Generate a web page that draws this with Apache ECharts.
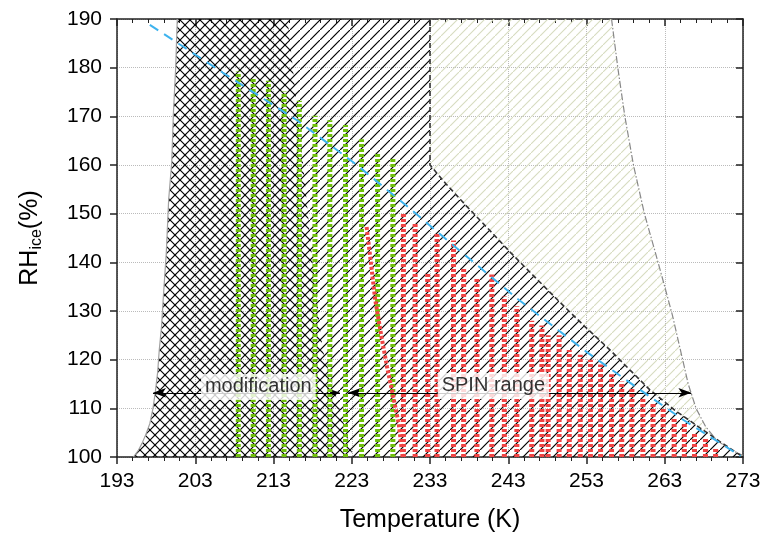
<!DOCTYPE html>
<html>
<head>
<meta charset="utf-8">
<script src="https://cdn.jsdelivr.net/npm/echarts@6/dist/echarts.min.js"></script>
<style>
html, body { margin: 0; background: #fff; }
#main { width: 763px; height: 533px; }
</style>
</head>
<body>
<div id="main"></div>
<script>
// boundary curves, [T (K), RHice (%)]
var leftCurve = [[195.1, 100], [195.7, 101.3], [196.2, 102.8], [196.7, 104.7], [197.2, 106.9], [197.6, 110],
  [197.9, 113.4], [198.2, 117.5], [198.4, 122], [198.7, 127], [198.9, 132.3], [199.3, 142], [199.6, 152.8],
  [200.0, 160.7], [200.2, 170.3], [200.5, 180], [200.7, 190]];
var modRight = [[214.8, 190], [215.8, 175], [216.8, 160], [218.0, 140], [219.3, 122], [220.9, 113], [223.2, 100]];
var spinEdge = [[233, 190], [233, 160], [235, 156.2], [237.7, 151.5], [240.5, 146.8], [243.3, 142],
  [246.5, 136.8], [249.6, 131.8], [252.8, 126.8], [256, 122], [258.6, 117.8], [261.1, 113.8],
  [264.3, 109.6], [267.5, 106], [270.2, 103], [273, 100]];
var dashDotEdge = [[256.2, 190], [257.0, 180], [257.9, 170], [259.0, 160], [260.4, 150], [261.8, 142],
  [263.0, 135], [264.0, 129], [265.0, 122], [266.0, 115], [267.0, 110], [268.2, 106.3], [269.6, 103.5],
  [271.2, 101.7], [273, 100.3]];
var waterSat = [[197.2, 188.8], [206.5, 179], [216.0, 169.2], [223.5, 160.2], [230.4, 151.1], [233.9, 146.3],
  [244.1, 132.6], [253.0, 121.6], [259.5, 114.2], [265.4, 107.6], [272.7, 100.2]];

// measurement columns: [T, RH from, RH to]
var greenCols = [[208.5, 100, 179.2], [210.4, 100, 178.1], [212.35, 100, 177.3], [214.35, 100, 175.1],
  [216.3, 100, 173.2], [218.3, 100, 170.1], [220.2, 100, 169.2], [222.2, 100, 168.2], [224.25, 100, 165.3],
  [226.3, 100, 162.3], [228.25, 100, 161.3]];
var redCols = [[229.6, 100, 150], [231.1, 100, 148], [232.7, 100, 138], [233.9, 100, 146], [236.0, 100, 144.5],
  [237.3, 100, 139], [239.0, 100, 137], [240.9, 100, 137.5], [242.5, 100, 133], [244.1, 100, 131],
  [246.0, 100, 128], [247.3, 100, 127], [248.1, 100, 125], [249.5, 100, 125], [250.8, 100, 122],
  [252.2, 100, 121], [253.5, 100, 120], [254.8, 100, 119], [256.2, 100, 117], [257.5, 100, 115.5],
  [258.8, 100, 114], [260.2, 100, 112], [261.5, 100, 111], [262.8, 100, 110], [264.2, 100, 108],
  [265.5, 100, 107], [266.8, 100, 105], [268.2, 100, 104], [269.5, 100, 102]];
var redRamp = [[229.5, 100], [229.0, 106.9], [228.3, 112.4], [227.5, 118.6], [226.8, 124.7], [226.0, 132.3],
  [225.3, 141.9], [224.9, 147.3]];

var modArrow = [[197.6, 113.2], [221.5, 113.2]];
var spinArrow = [[222.5, 113.2], [266.4, 113.2]];
var textLabels = [[211.06, 114.4, 'modification'], [241.1, 114.6, 'SPIN range']];

function hatch(size, color, width, dirs) {
  var c = document.createElement('canvas');
  c.width = size; c.height = size;
  var ctx = c.getContext('2d');
  ctx.strokeStyle = color;
  ctx.lineWidth = width;
  ctx.beginPath();
  if (dirs.indexOf('/') >= 0) {
    ctx.moveTo(0, size); ctx.lineTo(size, 0);
  }
  if (dirs.indexOf('\\') >= 0) {
    ctx.moveTo(0, 0); ctx.lineTo(size, size);
  }
  ctx.stroke();
  return { image: c, repeat: 'repeat' };
}

function area(pts, fill, z) {
  return {
    type: 'custom', silent: true, z: z, data: [0],
    renderItem: function (params, api) {
      return {
        type: 'polygon',
        shape: { points: pts.map(function (p) { return api.coord(p); }) },
        style: { fill: fill, stroke: null }
      };
    }
  };
}

function curve(pts, color, width, type, z) {
  return {
    type: 'line', data: pts, showSymbol: false, silent: true, z: z,
    lineStyle: { color: color, width: width, type: type }
  };
}

function columns(cols, color, z) {
  return {
    type: 'custom', silent: true, z: z, data: cols,
    encode: { x: 0, y: [1, 2] },
    renderItem: function (params, api) {
      var a = api.coord([api.value(0), api.value(1)]);
      var b = api.coord([api.value(0), api.value(2)]);
      return {
        type: 'line',
        shape: { x1: a[0], y1: a[1], x2: b[0], y2: b[1] },
        style: { stroke: color, lineWidth: 5, lineDash: [3, 2] }
      };
    }
  };
}

var lightPoly = dashDotEdge.concat(spinEdge.slice().reverse());
var slashPoly = leftCurve.concat(spinEdge);
var backPoly = leftCurve.concat(modRight);

var font = 'Liberation Sans, Arial, sans-serif';
var chart = echarts.init(document.getElementById('main'));

var option = {
  backgroundColor: '#fff',
  animation: false,
  grid: { left: 117, right: 20, top: 19, bottom: 76, containLabel: false, outerBoundsMode: 'none' },
  xAxis: [{
    type: 'value', min: 193, max: 273, interval: 10, position: 'bottom',
    name: 'Temperature (K)', nameLocation: 'middle', nameGap: 51,
    nameTextStyle: { fontSize: 25, color: '#000', fontFamily: font },
    axisLine: { lineStyle: { color: '#222', width: 1.5 } },
    axisTick: { length: 7, lineStyle: { color: '#222', width: 1.5 } },
    minorTick: { show: true, splitNumber: 5, length: 4, lineStyle: { color: '#222', width: 1 } },
    axisLabel: { fontSize: 21, color: '#000', margin: 14, fontFamily: font },
    splitLine: { show: true, lineStyle: { color: '#bbb', type: 'dotted', width: 1 } }
  }, {
    type: 'value', min: 193, max: 273, interval: 10, position: 'top',
    axisLine: { lineStyle: { color: '#222', width: 1.5 } },
    axisTick: { inside: true, length: 7, lineStyle: { color: '#222', width: 1.5 } },
    minorTick: { show: true, splitNumber: 5, length: 4, lineStyle: { color: '#222', width: 1 } },
    axisLabel: { show: false }, splitLine: { show: false }
  }],
  yAxis: [{
    type: 'value', min: 100, max: 190, interval: 10, position: 'left',
    name: '{a|RH}{b|ice}{a|(%)}', nameLocation: 'middle', nameGap: 72, nameRotate: 90,
    nameTextStyle: {
      color: '#000', fontFamily: font,
      rich: {
        a: { fontSize: 25, color: '#000', fontFamily: font },
        b: { fontSize: 16, color: '#000', fontFamily: font, verticalAlign: 'bottom', padding: [13, 0, 0, 0] }
      }
    },
    axisLine: { lineStyle: { color: '#222', width: 1.5 } },
    axisTick: { length: 7, lineStyle: { color: '#222', width: 1.5 } },
    axisLabel: { fontSize: 21, color: '#000', margin: 15, fontFamily: font },
    splitLine: { show: true, lineStyle: { color: '#bbb', type: 'dotted', width: 1 } }
  }, {
    type: 'value', min: 100, max: 190, interval: 10, position: 'right',
    axisLine: { lineStyle: { color: '#222', width: 1.5 } },
    axisTick: { inside: true, length: 7, lineStyle: { color: '#222', width: 1.5 } },
    axisLabel: { show: false }, splitLine: { show: false }
  }],
  series: [
    area(lightPoly, hatch(9, '#d6dbbf', 1.1, '/'), 1),
    area(slashPoly, hatch(10, '#000', 1.2, '/'), 2),
    area(backPoly, hatch(10, '#000', 1.2, '\\'), 3),
    curve(leftCurve, '#a0a0a0', 1.2, 'solid', 4),
    curve(dashDotEdge, '#888', 1.2, [7, 2, 1.5, 2], 4),
    curve(spinEdge, '#333', 1.6, [5, 3], 4),
    columns(greenCols, '#6fbf0c', 5),
    columns(redCols, '#f04444', 5),
    {
      type: 'line', data: redRamp, showSymbol: false, silent: true, z: 5,
      lineStyle: { color: '#f04444', width: 4, type: [3, 2] }
    },
    curve(waterSat, '#3db3ee', 2, [10, 7], 6),
    {
      type: 'line', data: [], silent: true, z: 7,
      markLine: {
        silent: true, symbol: ['arrow', 'arrow'], symbolSize: [7, 13], animation: false,
        label: { show: false },
        lineStyle: { color: '#000', width: 1, type: 'solid' },
        data: [
          [{ coord: modArrow[0] }, { coord: modArrow[1] }],
          [{ coord: spinArrow[0] }, { coord: spinArrow[1] }]
        ]
      }
    },
    {
      type: 'scatter', data: textLabels, symbolSize: 0, silent: true, z: 8,
      label: {
        show: true, position: 'inside', formatter: function (p) { return p.value[2]; },
        fontSize: 20, color: '#000', fontFamily: font,
        backgroundColor: '#fff', padding: [3, 4, 3, 4]
      }
    }
  ]
};

chart.setOption(option);
</script>
</body>
</html>
